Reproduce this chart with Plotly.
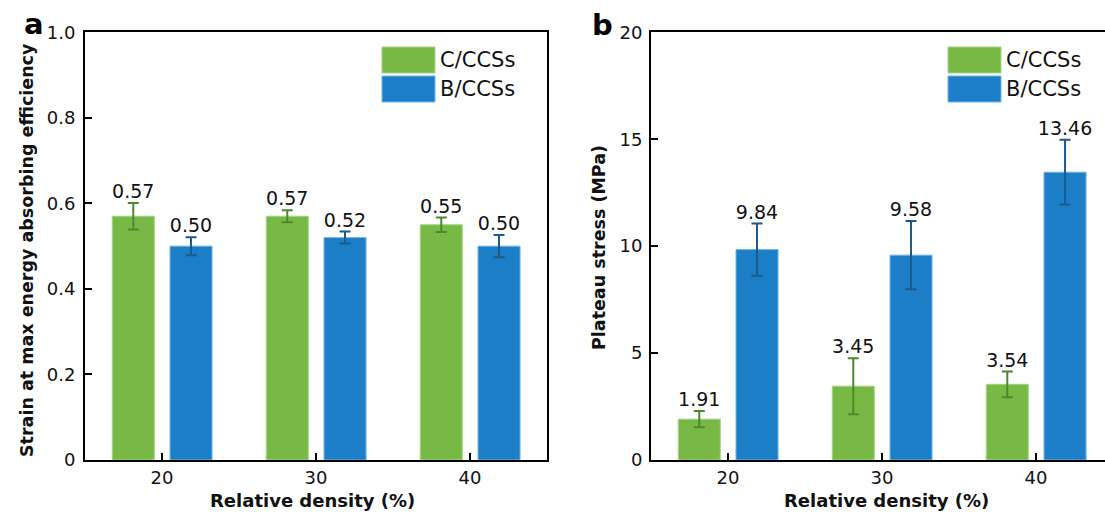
import plotly.graph_objects as go

# Relative density groups
densities = ["20", "30", "40"]
series_names = ["C/CCSs", "B/CCSs"]

# (a) strain at max energy absorbing efficiency
strain_c = [0.57, 0.57, 0.55]
strain_c_err = [0.031, 0.014, 0.017]
strain_b = [0.50, 0.52, 0.50]
strain_b_err = [0.021, 0.014, 0.026]

# (b) plateau stress, MPa
stress_c = [1.91, 3.45, 3.54]
stress_c_err = [0.38, 1.31, 0.60]
stress_b = [9.84, 9.58, 13.46]
stress_b_err = [1.22, 1.60, 1.51]

# y ticks
strain_ticks = [0, 0.2, 0.4, 0.6, 0.8, 1.0]
strain_tick_text = ["0", "0.2", "0.4", "0.6", "0.8", "1.0"]
stress_ticks = [0, 5, 10, 15, 20]

W, H = 1105, 514
GREEN, GREEN_EDGE, GREEN_ERR = "#77b944", "#a6d483", "#4a8a2c"
BLUE, BLUE_EDGE, BLUE_ERR = "#1b7ec6", "#72b5e6", "#1d5a8c"
FONT = "DejaVu Sans"
TXT = "#111111"

BAR_W = 0.273
OFF_C, OFF_B = -0.323, 0.052


def px_x(p):
    return p / W


def px_y(p):
    return 1 - p / H


xpos = list(range(len(densities)))
fig = go.Figure()


def add_panel(xa, ya, c_vals, c_err, b_vals, b_err, fmt):
    for vals, errs, off, col, edge, ecol, name in [
        (c_vals, c_err, OFF_C, GREEN, GREEN_EDGE, GREEN_ERR, series_names[0]),
        (b_vals, b_err, OFF_B, BLUE, BLUE_EDGE, BLUE_ERR, series_names[1]),
    ]:
        fig.add_trace(go.Bar(
            x=xpos, y=vals, width=BAR_W, offset=off, name=name,
            marker=dict(color=col, line=dict(color=edge, width=1)),
            error_y=dict(type="data", array=errs, visible=True,
                         color=ecol, thickness=2, width=5.5),
            xaxis=xa, yaxis=ya, showlegend=False,
        ))
        centers = [x + off + BAR_W / 2 for x in xpos]
        tops = [v + e for v, e in zip(vals, errs)]
        fig.add_trace(go.Scatter(
            x=centers, y=tops, mode="text",
            text=[fmt.format(v) for v in vals],
            textposition="top center",
            textfont=dict(family=FONT, size=19, color=TXT),
            xaxis=xa, yaxis=ya, showlegend=False, hoverinfo="skip",
        ))


add_panel("x", "y", strain_c, strain_c_err, strain_b, strain_b_err, "{:.2f}")
add_panel("x2", "y2", stress_c, stress_c_err, stress_b, stress_b_err, "{:.2f}")

ydom = [px_y(460), px_y(32.3)]
axis_common = dict(
    showline=True, linecolor="black", linewidth=2,
    ticks="inside", ticklen=7, tickwidth=2, tickcolor="black",
    showgrid=False, zeroline=False, automargin=False,
    tickfont=dict(family=FONT, size=18, color=TXT),
)

fig.update_layout(
    width=W, height=H,
    margin=dict(l=0, r=0, t=0, b=0),
    paper_bgcolor="white", plot_bgcolor="white",
    barmode="overlay",
    xaxis=dict(domain=[px_x(85), px_x(547)], range=[-0.5, 2.5],
               tickvals=xpos, ticktext=densities, mirror=True,
               anchor="y", **axis_common),
    yaxis=dict(domain=ydom, range=[0, 1.0], tickvals=strain_ticks,
               ticktext=strain_tick_text, mirror=True, anchor="x",
               ticklabelstandoff=4, **axis_common),
    xaxis2=dict(domain=[px_x(651), 1.0], range=[-0.5, 2.448],
                tickvals=xpos, ticktext=densities, mirror=True,
                anchor="y2", **axis_common),
    yaxis2=dict(domain=ydom, range=[0, 20], tickvals=stress_ticks,
                mirror=False, anchor="x2", ticklabelstandoff=3,
                **axis_common),
)

annotations = []
shapes = []

# axis titles
for cx, text in [(312, "Relative density (%)"), (886, "Relative density (%)")]:
    annotations.append(dict(
        x=px_x(cx), y=px_y(500), xref="paper", yref="paper",
        text=f"<b>{text}</b>", showarrow=False,
        xanchor="center", yanchor="middle",
        font=dict(family=FONT, size=18, color=TXT)))
for cx, cy, text in [(27, 250, "Strain at max energy absorbing efficiency"),
                     (599, 248, "Plateau stress (MPa)")]:
    annotations.append(dict(
        x=px_x(cx), y=px_y(cy), xref="paper", yref="paper",
        text=f"<b>{text}</b>", showarrow=False, textangle=-90,
        xanchor="center", yanchor="middle",
        font=dict(family=FONT, size=17.5, color=TXT)))

# panel letters
for cx, cy, letter in [(34, 24, "a"), (602, 25, "b")]:
    annotations.append(dict(
        x=px_x(cx), y=px_y(cy), xref="paper", yref="paper",
        text=f"<b>{letter}</b>", showarrow=False,
        xanchor="center", yanchor="middle",
        font=dict(family=FONT, size=29, color="black")))

# legend boxes
for sx in (382, 948):
    for (y0, y1), col, edge, name in [((47, 73), GREEN, GREEN_EDGE, series_names[0]),
                                      ((76, 102), BLUE, BLUE_EDGE, series_names[1])]:
        shapes.append(dict(type="rect", xref="paper", yref="paper",
                           x0=px_x(sx), x1=px_x(sx + 53),
                           y0=px_y(y1), y1=px_y(y0),
                           fillcolor=col, line=dict(color=edge, width=1)))
        annotations.append(dict(
            x=px_x(sx + 56), y=px_y((y0 + y1) / 2), xref="paper", yref="paper",
            text=name, showarrow=False, xanchor="left", yanchor="middle",
            font=dict(family=FONT, size=21, color=TXT)))

fig.update_layout(annotations=annotations, shapes=shapes)

fig.write_html("out.html")
